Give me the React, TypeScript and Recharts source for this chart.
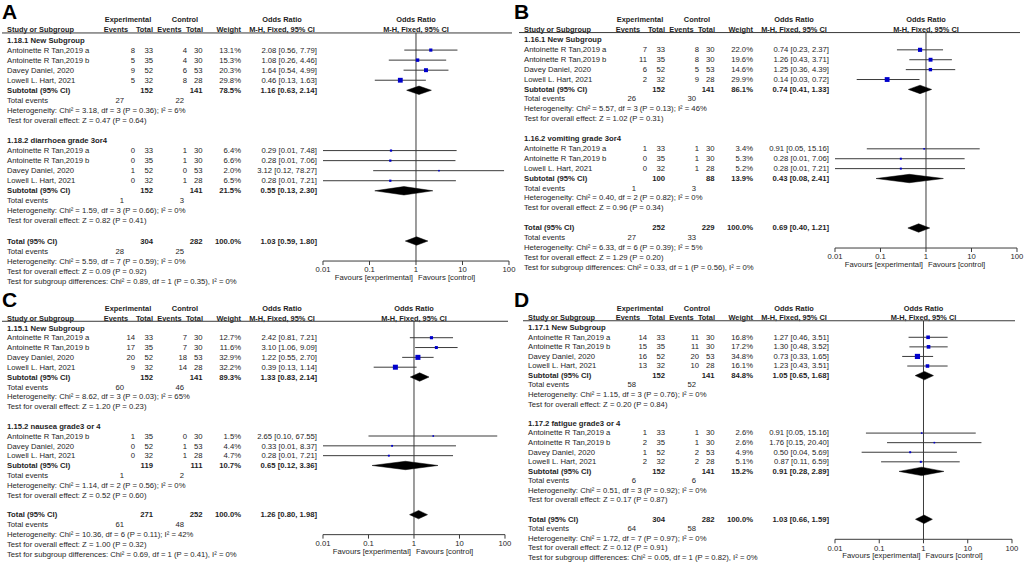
import React from 'react';
import { ScatterChart, Scatter, XAxis, YAxis, ReferenceLine } from 'recharts';

type Study = { name: string; ee: number; et: number; ce: number; ct: number; w: number; or: number; lo: number; hi: number };
type Sum = { et: number; ct: number; w: number; or: number; lo: number; hi: number; ev: [number, number]; het: string; test: string };

// ---------- Panel A ----------
const titlesA = ['1.18.1 New Subgroup', '1.18.2 diarrhoea grade 3or4'];
const studiesA1: Study[] = [
  { name: 'Antoinette R Tan,2019 a', ee: 8, et: 33, ce: 4, ct: 30, w: 13.1, or: 2.08, lo: 0.56, hi: 7.79 },
  { name: 'Antoinette R Tan,2019 b', ee: 5, et: 35, ce: 4, ct: 30, w: 15.3, or: 1.08, lo: 0.26, hi: 4.46 },
  { name: 'Davey Daniel, 2020', ee: 9, et: 52, ce: 6, ct: 53, w: 20.3, or: 1.64, lo: 0.54, hi: 4.99 },
  { name: 'Lowell L. Hart, 2021', ee: 5, et: 32, ce: 8, ct: 28, w: 29.8, or: 0.46, lo: 0.13, hi: 1.63 },
];
const subA1: Sum = { et: 152, ct: 141, w: 78.5, or: 1.16, lo: 0.63, hi: 2.14, ev: [27, 22], het: 'Heterogeneity: Chi² = 3.18, df = 3 (P = 0.36); I² = 6%', test: 'Test for overall effect: Z = 0.47 (P = 0.64)' };
const studiesA2: Study[] = [
  { name: 'Antoinette R Tan,2019 a', ee: 0, et: 33, ce: 1, ct: 30, w: 6.4, or: 0.29, lo: 0.01, hi: 7.48 },
  { name: 'Antoinette R Tan,2019 b', ee: 0, et: 35, ce: 1, ct: 30, w: 6.6, or: 0.28, lo: 0.01, hi: 7.06 },
  { name: 'Davey Daniel, 2020', ee: 1, et: 52, ce: 0, ct: 53, w: 2.0, or: 3.12, lo: 0.12, hi: 78.27 },
  { name: 'Lowell L. Hart, 2021', ee: 0, et: 32, ce: 1, ct: 28, w: 6.5, or: 0.28, lo: 0.01, hi: 7.21 },
];
const subA2: Sum = { et: 152, ct: 141, w: 21.5, or: 0.55, lo: 0.13, hi: 2.30, ev: [1, 3], het: 'Heterogeneity: Chi² = 1.59, df = 3 (P = 0.66); I² = 0%', test: 'Test for overall effect: Z = 0.82 (P = 0.41)' };
const totalA: Sum = { et: 304, ct: 282, w: 100, or: 1.03, lo: 0.59, hi: 1.80, ev: [28, 25], het: 'Heterogeneity: Chi² = 5.59, df = 7 (P = 0.59); I² = 0%', test: 'Test for overall effect: Z = 0.09 (P = 0.92)' };
const diffA = 'Test for subgroup differences: Chi² = 0.89, df = 1 (P = 0.35), I² = 0%';

// ---------- Panel B ----------
const titlesB = ['1.16.1 New Subgroup', '1.16.2 vomiting grade 3or4'];
const studiesB1: Study[] = [
  { name: 'Antoinette R Tan,2019 a', ee: 7, et: 33, ce: 8, ct: 30, w: 22.0, or: 0.74, lo: 0.23, hi: 2.37 },
  { name: 'Antoinette R Tan,2019 b', ee: 11, et: 35, ce: 8, ct: 30, w: 19.6, or: 1.26, lo: 0.43, hi: 3.71 },
  { name: 'Davey Daniel, 2020', ee: 6, et: 52, ce: 5, ct: 53, w: 14.6, or: 1.25, lo: 0.36, hi: 4.39 },
  { name: 'Lowell L. Hart, 2021', ee: 2, et: 32, ce: 9, ct: 28, w: 29.9, or: 0.14, lo: 0.03, hi: 0.72 },
];
const subB1: Sum = { et: 152, ct: 141, w: 86.1, or: 0.74, lo: 0.41, hi: 1.33, ev: [26, 30], het: 'Heterogeneity: Chi² = 5.57, df = 3 (P = 0.13); I² = 46%', test: 'Test for overall effect: Z = 1.02 (P = 0.31)' };
const studiesB2: Study[] = [
  { name: 'Antoinette R Tan,2019 a', ee: 1, et: 33, ce: 1, ct: 30, w: 3.4, or: 0.91, lo: 0.05, hi: 15.16 },
  { name: 'Antoinette R Tan,2019 b', ee: 0, et: 35, ce: 1, ct: 30, w: 5.3, or: 0.28, lo: 0.01, hi: 7.06 },
  { name: 'Lowell L. Hart, 2021', ee: 0, et: 32, ce: 1, ct: 28, w: 5.2, or: 0.28, lo: 0.01, hi: 7.21 },
];
const subB2: Sum = { et: 100, ct: 88, w: 13.9, or: 0.43, lo: 0.08, hi: 2.41, ev: [1, 3], het: 'Heterogeneity: Chi² = 0.40, df = 2 (P = 0.82); I² = 0%', test: 'Test for overall effect: Z = 0.96 (P = 0.34)' };
const totalB: Sum = { et: 252, ct: 229, w: 100, or: 0.69, lo: 0.40, hi: 1.21, ev: [27, 33], het: 'Heterogeneity: Chi² = 6.33, df = 6 (P = 0.39); I² = 5%', test: 'Test for overall effect: Z = 1.29 (P = 0.20)' };
const diffB = 'Test for subgroup differences: Chi² = 0.33, df = 1 (P = 0.56), I² = 0%';

// ---------- Panel C ----------
const titlesC = ['1.15.1 New Subgroup', '1.15.2 nausea grade3 or 4'];
const studiesC1: Study[] = [
  { name: 'Antoinette R Tan,2019 a', ee: 14, et: 33, ce: 7, ct: 30, w: 12.7, or: 2.42, lo: 0.81, hi: 7.21 },
  { name: 'Antoinette R Tan,2019 b', ee: 17, et: 35, ce: 7, ct: 30, w: 11.6, or: 3.10, lo: 1.06, hi: 9.09 },
  { name: 'Davey Daniel, 2020', ee: 20, et: 52, ce: 18, ct: 53, w: 32.9, or: 1.22, lo: 0.55, hi: 2.70 },
  { name: 'Lowell L. Hart, 2021', ee: 9, et: 32, ce: 14, ct: 28, w: 32.2, or: 0.39, lo: 0.13, hi: 1.14 },
];
const subC1: Sum = { et: 152, ct: 141, w: 89.3, or: 1.33, lo: 0.83, hi: 2.14, ev: [60, 46], het: 'Heterogeneity: Chi² = 8.62, df = 3 (P = 0.03); I² = 65%', test: 'Test for overall effect: Z = 1.20 (P = 0.23)' };
const studiesC2: Study[] = [
  { name: 'Antoinette R Tan,2019 b', ee: 1, et: 35, ce: 0, ct: 30, w: 1.5, or: 2.65, lo: 0.10, hi: 67.55 },
  { name: 'Davey Daniel, 2020', ee: 0, et: 52, ce: 1, ct: 53, w: 4.4, or: 0.33, lo: 0.01, hi: 8.37 },
  { name: 'Lowell L. Hart, 2021', ee: 0, et: 32, ce: 1, ct: 28, w: 4.7, or: 0.28, lo: 0.01, hi: 7.21 },
];
const subC2: Sum = { et: 119, ct: 111, w: 10.7, or: 0.65, lo: 0.12, hi: 3.36, ev: [1, 2], het: 'Heterogeneity: Chi² = 1.14, df = 2 (P = 0.56); I² = 0%', test: 'Test for overall effect: Z = 0.52 (P = 0.60)' };
const totalC: Sum = { et: 271, ct: 252, w: 100, or: 1.26, lo: 0.80, hi: 1.98, ev: [61, 48], het: 'Heterogeneity: Chi² = 10.36, df = 6 (P = 0.11); I² = 42%', test: 'Test for overall effect: Z = 1.00 (P = 0.32)' };
const diffC = 'Test for subgroup differences: Chi² = 0.69, df = 1 (P = 0.41), I² = 0%';

// ---------- Panel D ----------
const titlesD = ['1.17.1 New Subgroup', '1.17.2 fatigue grade3 or 4'];
const studiesD1: Study[] = [
  { name: 'Antoinette R Tan,2019 a', ee: 14, et: 33, ce: 11, ct: 30, w: 16.8, or: 1.27, lo: 0.46, hi: 3.51 },
  { name: 'Antoinette R Tan,2019 b', ee: 15, et: 35, ce: 11, ct: 30, w: 17.2, or: 1.30, lo: 0.48, hi: 3.52 },
  { name: 'Davey Daniel, 2020', ee: 16, et: 52, ce: 20, ct: 53, w: 34.8, or: 0.73, lo: 0.33, hi: 1.65 },
  { name: 'Lowell L. Hart, 2021', ee: 13, et: 32, ce: 10, ct: 28, w: 16.1, or: 1.23, lo: 0.43, hi: 3.51 },
];
const subD1: Sum = { et: 152, ct: 141, w: 84.8, or: 1.05, lo: 0.65, hi: 1.68, ev: [58, 52], het: 'Heterogeneity: Chi² = 1.15, df = 3 (P = 0.76); I² = 0%', test: 'Test for overall effect: Z = 0.20 (P = 0.84)' };
const studiesD2: Study[] = [
  { name: 'Antoinette R Tan,2019 a', ee: 1, et: 33, ce: 1, ct: 30, w: 2.6, or: 0.91, lo: 0.05, hi: 15.16 },
  { name: 'Antoinette R Tan,2019 b', ee: 2, et: 35, ce: 1, ct: 30, w: 2.6, or: 1.76, lo: 0.15, hi: 20.40 },
  { name: 'Davey Daniel, 2020', ee: 1, et: 52, ce: 2, ct: 53, w: 4.9, or: 0.50, lo: 0.04, hi: 5.69 },
  { name: 'Lowell L. Hart, 2021', ee: 2, et: 32, ce: 2, ct: 28, w: 5.1, or: 0.87, lo: 0.11, hi: 6.59 },
];
const subD2: Sum = { et: 152, ct: 141, w: 15.2, or: 0.91, lo: 0.28, hi: 2.89, ev: [6, 6], het: 'Heterogeneity: Chi² = 0.51, df = 3 (P = 0.92); I² = 0%', test: 'Test for overall effect: Z = 0.17 (P = 0.87)' };
const totalD: Sum = { et: 304, ct: 282, w: 100, or: 1.03, lo: 0.66, hi: 1.59, ev: [64, 58], het: 'Heterogeneity: Chi² = 1.72, df = 7 (P = 0.97); I² = 0%', test: 'Test for overall effect: Z = 0.12 (P = 0.91)' };
const diffD = 'Test for subgroup differences: Chi² = 0.05, df = 1 (P = 0.82), I² = 0%';

const axisTicks = [0.01, 0.1, 1, 10, 100];

// ---------- layout / style ----------
const FONT = '"Liberation Sans", Arial, Helvetica, sans-serif';
const FS = 7.7;
const HFS = 7.4;
const TXT = '#1e1e1e';
const LINE = '#3a3a3a';
const BLUE = '#0000cc';

type Group = { title: string; studies: Study[]; sub: Sum };
type PanelDef = {
  letter: string; x0: number; base: number; unit: number; plotRight: number; nameX: number; letterY: number;
  groups: Group[]; total: Sum; diff: string;
};

const panels: PanelDef[] = [
  { letter: 'A', x0: 0, base: 19.9, unit: 10.05, plotRight: 509, nameX: 7, letterY: 19,
    groups: [{ title: titlesA[0], studies: studiesA1, sub: subA1 }, { title: titlesA[1], studies: studiesA2, sub: subA2 }], total: totalA, diff: diffA },
  { letter: 'B', x0: 512, base: 19.7, unit: 9.9, plotRight: 505, nameX: 12, letterY: 19,
    groups: [{ title: titlesB[0], studies: studiesB1, sub: subB1 }, { title: titlesB[1], studies: studiesB2, sub: subB2 }], total: totalB, diff: diffB },
  { letter: 'C', x0: 0, base: 308.5, unit: 9.83, plotRight: 505, nameX: 7, letterY: 307,
    groups: [{ title: titlesC[0], studies: studiesC1, sub: subC1 }, { title: titlesC[1], studies: studiesC2, sub: subC2 }], total: totalC, diff: diffC },
  { letter: 'D', x0: 512, base: 308.3, unit: 9.58, plotRight: 500, nameX: 16, letterY: 307,
    groups: [{ title: titlesD[0], studies: studiesD1, sub: subD1 }, { title: titlesD[1], studies: studiesD2, sub: subD2 }], total: totalD, diff: diffD },
];

const fmtOR = (s: { or: number; lo: number; hi: number }) => `${s.or.toFixed(2)} [${s.lo.toFixed(2)}, ${s.hi.toFixed(2)}]`;

type Row =
  | { kind: 'title'; i: number; text: string }
  | { kind: 'study'; i: number; s: Study }
  | { kind: 'sub'; i: number; s: Sum; label: string }
  | { kind: 'events'; i: number; ev: [number, number] }
  | { kind: 'text'; i: number; text: string };

function layoutRows(p: PanelDef) {
  const rows: Row[] = [];
  let i = 2;
  const subs: { s: Sum; i: number }[] = [];
  const pts: { s: Study; i: number }[] = [];
  p.groups.forEach((g) => {
    rows.push({ kind: 'title', i, text: g.title }); i++;
    g.studies.forEach((s) => { rows.push({ kind: 'study', i, s }); pts.push({ s, i }); i++; });
    rows.push({ kind: 'sub', i, s: g.sub, label: 'Subtotal (95% CI)' }); subs.push({ s: g.sub, i }); i++;
    rows.push({ kind: 'events', i, ev: g.sub.ev }); i++;
    rows.push({ kind: 'text', i, text: g.sub.het }); i++;
    rows.push({ kind: 'text', i, text: g.sub.test }); i++;
    i++;
  });
  const iTotal = i;
  rows.push({ kind: 'sub', i, s: p.total, label: 'Total (95% CI)' }); subs.push({ s: p.total, i }); i++;
  rows.push({ kind: 'events', i, ev: p.total.ev }); i++;
  rows.push({ kind: 'text', i, text: p.total.het }); i++;
  rows.push({ kind: 'text', i, text: p.total.test }); i++;
  rows.push({ kind: 'text', i, text: p.diff }); i++;
  return { rows, iTotal, subs, pts };
}

const Empty = () => <g />;

const SquareShape = (props: any) => {
  const { cx, cy, payload } = props;
  const s = Math.max(1.6, 0.88 * Math.sqrt(payload.w));
  return <rect x={cx - s / 2} y={cy - s / 2} width={s} height={s} fill={BLUE} />;
};

const T = (props: any) => (
  <text fontFamily={FONT} fontSize={FS} fill={TXT} dominantBaseline="central" {...props} />
);
const H = (props: any) => (
  <text fontFamily={FONT} fontSize={HFS} fill={TXT} fontWeight="bold" dominantBaseline="central" {...props} />
);

const Panel = ({ p }: { p: PanelDef }) => {
  const W = 512;
  const CW = W + 14;
  const y = (i: number) => p.base + p.unit * i;
  const { rows, iTotal, subs, pts } = layoutRows(p);
  const iTop = 1.3;
  const iAxis = iTotal + 20 / p.unit;
  const plotTop = y(iTop);
  const axisY = y(iAxis);
  const chartTop = plotTop - 10;
  const chartH = axisY + 22 - chartTop;
  const plotLeft = 323;
  const plotMid = (plotLeft + p.plotRight) / 2;
  const dh = 4.2 / p.unit;

  const squares = pts.map(({ s, i }) => ({ x: s.or, y: i, w: s.w }));

  const cols = { ee: 135, et: 153, ce: 187, ct: 202.5, w: 241, or: 317, evE: 124, evC: 184 };

  return (
    <>
      <div style={{ position: 'absolute', left: p.x0, top: chartTop }}>
        <ScatterChart width={CW} height={chartH} margin={{ top: 10, right: CW - p.plotRight, bottom: 2, left: plotLeft }}>
          <XAxis
            type="number"
            dataKey="x"
            scale="log"
            domain={[0.01, 100]}
            ticks={axisTicks}
            interval={0}
            allowDataOverflow
            height={20}
            tickSize={4}
            tickFormatter={(v: number) => String(v)}
            tick={{ fontSize: FS, fill: TXT, fontFamily: FONT }}
            axisLine={{ stroke: LINE }}
            tickLine={{ stroke: LINE }}
          />
          <YAxis type="number" dataKey="y" domain={[iTop, iAxis]} reversed hide allowDataOverflow />
          <ReferenceLine x={1} stroke={LINE} strokeWidth={1} />
          {pts.map(({ s, i }, k) => (
            <Scatter
              key={'ci' + k}
              data={[{ x: s.lo, y: i }, { x: s.hi, y: i }]}
              line={{ stroke: LINE, strokeWidth: 1 }}
              shape={Empty}
              isAnimationActive={false}
            />
          ))}
          <Scatter data={squares} shape={SquareShape} isAnimationActive={false} />
          {subs.map(({ s, i }, k) => (
            <Scatter
              key={'dm' + k}
              data={[
                { x: s.lo, y: i },
                { x: s.or, y: i - dh },
                { x: s.hi, y: i },
                { x: s.or, y: i + dh },
                { x: s.lo, y: i },
              ]}
              line={{ stroke: '#000', fill: '#000', strokeWidth: 0.5 }}
              shape={Empty}
              isAnimationActive={false}
            />
          ))}
        </ScatterChart>
      </div>
      <svg style={{ position: 'absolute', left: p.x0, top: 0, pointerEvents: 'none' }} width={W} height={563}>
        <text x={2} y={p.letterY} fontFamily={FONT} fontSize={21} fontWeight="bold" fill="#000">{p.letter}</text>
        {/* header line 1 */}
        <H x={128} y={y(0)} textAnchor="middle">Experimental</H>
        <H x={185} y={y(0)} textAnchor="middle">Control</H>
        <H x={282} y={y(0)} textAnchor="middle">Odds Ratio</H>
        <H x={plotMid} y={y(0)} textAnchor="middle">Odds Ratio</H>
        {/* header line 2 */}
        <H x={p.nameX} y={y(1)}>Study or Subgroup</H>
        <H x={128} y={y(1)} textAnchor="end">Events</H>
        <H x={153} y={y(1)} textAnchor="end">Total</H>
        <H x={181.5} y={y(1)} textAnchor="end">Events</H>
        <H x={203} y={y(1)} textAnchor="end">Total</H>
        <H x={241} y={y(1)} textAnchor="end">Weight</H>
        <H x={282} y={y(1)} textAnchor="middle">M-H, Fixed, 95% CI</H>
        <H x={plotMid} y={y(1)} textAnchor="middle">M-H, Fixed, 95% CI</H>
        <line x1={p.nameX - 5} x2={p.plotRight + 3} y1={y(iTop)} y2={y(iTop)} stroke={LINE} strokeWidth={1} />
        {rows.map((r, k) => {
          const yy = y(r.i);
          if (r.kind === 'title') return <T key={k} x={p.nameX} y={yy} fontWeight="bold">{r.text}</T>;
          if (r.kind === 'text') return <T key={k} x={p.nameX} y={yy}>{r.text}</T>;
          if (r.kind === 'events')
            return (
              <g key={k}>
                <T x={p.nameX} y={yy}>Total events</T>
                <T x={cols.evE} y={yy} textAnchor="end">{r.ev[0]}</T>
                <T x={cols.evC} y={yy} textAnchor="end">{r.ev[1]}</T>
              </g>
            );
          if (r.kind === 'study')
            return (
              <g key={k}>
                <T x={p.nameX} y={yy}>{r.s.name}</T>
                <T x={cols.ee} y={yy} textAnchor="end">{r.s.ee}</T>
                <T x={cols.et} y={yy} textAnchor="end">{r.s.et}</T>
                <T x={cols.ce} y={yy} textAnchor="end">{r.s.ce}</T>
                <T x={cols.ct} y={yy} textAnchor="end">{r.s.ct}</T>
                <T x={cols.w} y={yy} textAnchor="end">{r.s.w.toFixed(1) + '%'}</T>
                <T x={cols.or} y={yy} textAnchor="end">{fmtOR(r.s)}</T>
              </g>
            );
          return (
            <g key={k}>
              <T x={p.nameX} y={yy} fontWeight="bold">{r.label}</T>
              <T x={cols.et} y={yy} textAnchor="end" fontWeight="bold">{r.s.et}</T>
              <T x={cols.ct} y={yy} textAnchor="end" fontWeight="bold">{r.s.ct}</T>
              <T x={cols.w} y={yy} textAnchor="end" fontWeight="bold">{r.s.w.toFixed(1) + '%'}</T>
              <T x={cols.or} y={yy} textAnchor="end" fontWeight="bold">{fmtOR(r.s)}</T>
            </g>
          );
        })}
        <T x={plotMid - 3} y={axisY + 16.5} textAnchor="end">Favours [experimental]</T>
        <T x={plotMid + 2} y={axisY + 16.5} textAnchor="start">Favours [control]</T>
      </svg>
    </>
  );
};

export default function App() {
  return (
    <div style={{ position: 'absolute', left: 0, top: 0, width: 1024, height: 563, background: '#fff', overflow: 'hidden' }}>
      {panels.map((p) => (
        <Panel key={p.letter} p={p} />
      ))}
    </div>
  );
}
